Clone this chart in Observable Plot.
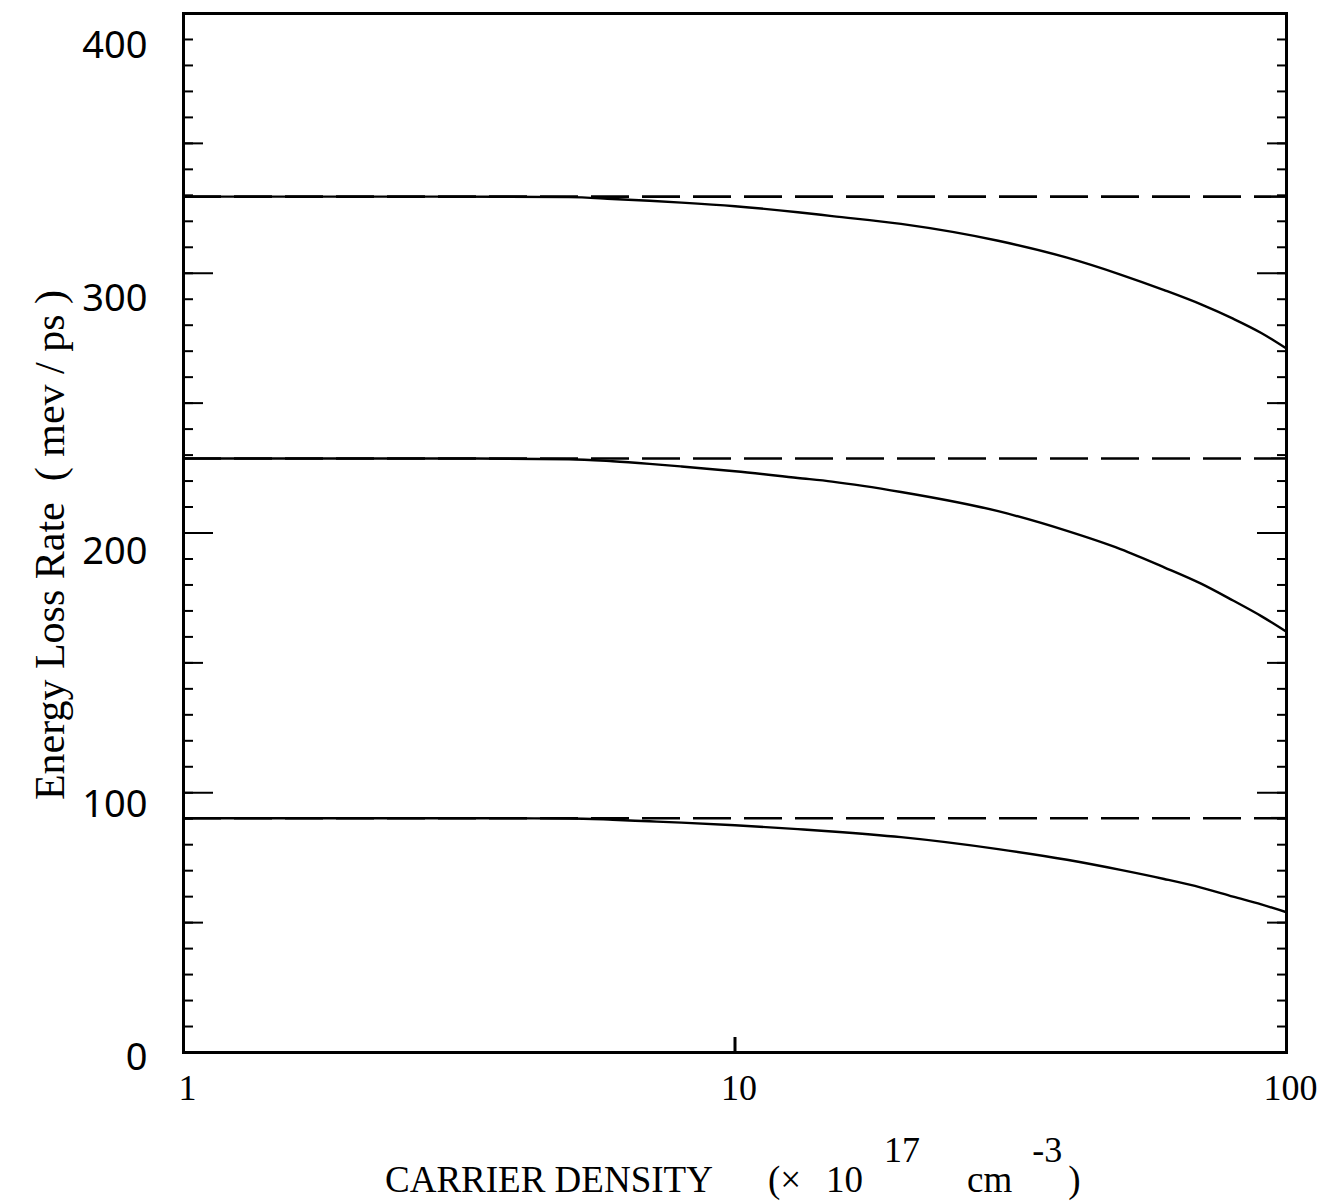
<!DOCTYPE html>
<html>
<head>
<meta charset="utf-8">
<script src="https://cdn.jsdelivr.net/npm/d3@7"></script>
<script src="https://cdn.jsdelivr.net/npm/@observablehq/plot@0.6"></script>
<style>
  body { margin: 0; background: #fff; }
  #chart { position: relative; width: 1320px; height: 1202px; overflow: hidden; }
  #ytitle {
    position: absolute; left: 50px; top: 545px;
    transform: translate(-50%, -50%) rotate(-90deg);
    white-space: pre; font-family: "Liberation Serif", serif; font-size: 42px; color: #000;
  }
  #xtitle {
    position: absolute; left: 385px; top: 1160px; line-height: 40px;
    white-space: pre; font-family: "Liberation Serif", serif; font-size: 37px; color: #000;
  }
  #xtitle span { display: inline-block; }
  #xtitle .sup { position: relative; top: -30px; font-size: 36px; }
</style>
</head>
<body>
<div id="chart">
  <div id="ytitle">Energy Loss Rate  ( mev / ps )</div>
  <div id="xtitle"><span>CARRIER DENSITY</span><span style="margin-left:55px">(×</span><span style="margin-left:25px">10</span><span class="sup" style="margin-left:21px">17</span><span style="margin-left:47px">cm</span><span class="sup" style="margin-left:20px">-3</span><span style="margin-left:6px">)</span></div>
</div>
<script>
// Carrier density (×10^17 cm^-3)
const density = [1, 3, 5, 6, 7, 8, 10, 13, 15, 20, 30, 40, 50, 60, 70, 80, 90, 100];
// Energy loss rate (meV/ps) with carrier screening, three excess energies
const upperRate  = [329.5, 329.5, 329.3, 328.6, 327.9, 327.2, 325.8, 323.5, 322.0, 319.0, 312.5, 306.0, 299.5, 293.5, 288.0, 282.5, 277.0, 271.0];
const middleRate = [228.7, 228.7, 228.4, 227.6, 226.6, 225.6, 223.8, 221.2, 219.8, 215.8, 208.4, 200.8, 193.8, 186.8, 180.5, 174.0, 168.0, 162.0];
const lowerRate  = [90.2, 90.2, 90.1, 89.6, 89.0, 88.5, 87.5, 86.0, 85.1, 82.9, 78.3, 74.2, 70.3, 66.8, 63.5, 60.0, 57.0, 54.0];
// Unscreened (low-density) rates, drawn dashed
const unscreenedRate = [329.5, 228.7, 90.2];

// Axis ticks
const yMinorTicks = d3.range(0, 401, 10);
const yMidTicks = [50, 150, 250, 350];
const yMajorTicks = [0, 100, 200, 300, 400];
const xTickMarks = [10];
const xTickLabels = [1, 10, 100];

const curves = [
  {name: "upper", values: upperRate},
  {name: "middle", values: middleRate},
  {name: "lower", values: lowerRate}
];
const rows = curves.flatMap(c => density.map((n, i) => ({series: c.name, n, rate: c.values[i]})));

const sideTicks = (anchor, ticks, size) =>
  Plot.axisY({anchor, ticks, tickSize: -size, tickFormat: () => "", strokeWidth: 2, label: null});

// The value labels sit a little below their ticks, drifting further down toward the top.
const valueLabels = yMajorTicks.map(v =>
  Plot.axisY({anchor: "left", ticks: [v], tickSize: 0, tickPadding: 36, dy: 5 + 0.0675 * v,
    fontSize: 38, fontFamily: "Noto Sans", tickFormat: d => String(d), label: null}));

const chart = Plot.plot({
  width: 1320,
  height: 1120,
  marginLeft: 183,
  marginRight: 34,
  marginTop: 13,
  marginBottom: 68,
  style: {background: "#fff", color: "#000"},
  x: {type: "log", domain: [1, 100], label: null},
  y: {domain: [0, 400], label: null},
  marks: [
    Plot.ruleY(unscreenedRate, {stroke: "#000", strokeWidth: 2.6, strokeDasharray: "38,13"}),
    Plot.line(rows, {x: "n", y: "rate", z: "series", stroke: "#000", strokeWidth: 2.4, curve: "monotone-x"}),
    sideTicks("left", yMinorTicks, 10),
    sideTicks("left", yMidTicks, 20),
    sideTicks("left", yMajorTicks, 30),
    sideTicks("right", yMinorTicks, 10),
    sideTicks("right", yMidTicks, 20),
    sideTicks("right", yMajorTicks, 30),
    ...valueLabels,
    Plot.axisX({anchor: "bottom", ticks: xTickMarks, tickSize: -15, strokeWidth: 3, tickFormat: () => "", label: null}),
    Plot.axisX({anchor: "bottom", ticks: xTickLabels, tickSize: 0, tickPadding: 22, dx: 4,
      fontSize: 36, fontFamily: "Liberation Serif", tickFormat: d => String(d), label: null}),
    Plot.frame({stroke: "#000", strokeWidth: 3})
  ]
});

document.getElementById("chart").prepend(chart);
</script>
</body>
</html>
